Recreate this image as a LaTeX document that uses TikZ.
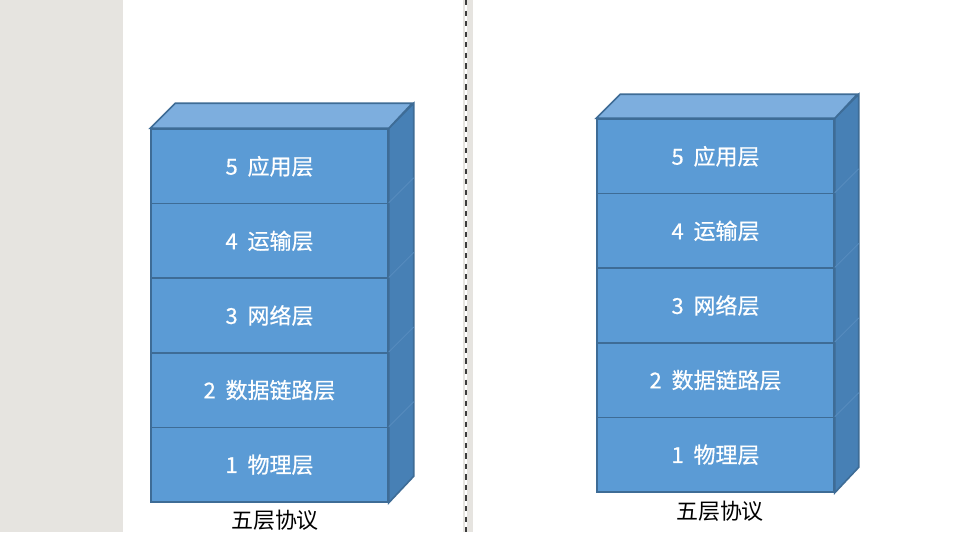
\documentclass[tikz,border=0pt]{standalone}
\usepackage{fontspec}
\newfontfamily\cjk{Noto Sans CJK SC}
\newfontfamily\cjkheavy[FakeBold=0.6]{Noto Sans CJK SC}
\usetikzlibrary{positioning}
\usetikzlibrary{calc}
\definecolor{panegray}{RGB}{230,228,224}
\definecolor{frontblue}{RGB}{91,155,213}
\definecolor{topblue}{RGB}{125,174,222}
\definecolor{sideblue}{RGB}{71,128,181}
\definecolor{edgeblue}{RGB}{62,108,150}
\definecolor{seamblue}{RGB}{86,140,190}
\definecolor{dashgray}{RGB}{60,60,60}
\tikzset{
  layerbox/.style={draw=edgeblue, line width=0.9pt, fill=frontblue, inner sep=0pt,
    minimum width=4.74cm, minimum height=1.492cm, text=white, font=\cjkheavy\fontsize{12.5}{14}\selectfont},
  sideface/.style={draw=edgeblue, line width=0.9pt, fill=sideblue},
  topface/.style={draw=edgeblue, line width=0.9pt, fill=topblue},
  captext/.style={inner sep=0pt, text=black, font=\cjk\fontsize{12.5}{14}\selectfont}
}
\begin{document}
\begin{tikzpicture}[x=0.02cm, y=-0.02cm]
			\useasboundingbox (0,0) rectangle (955,532);
			\fill[white] (0,0) rectangle (955,532);
			% window panes
			\fill[panegray] (0,0) rectangle (123,532);
			\fill[panegray] (463,0) rectangle (473,532);
			\draw[white, line width=1.2pt] (466,0) -- (466,532);
			\draw[dashgray, line width=1.2pt, dash pattern=on 3pt off 3pt] (466,0) -- (466,532);
			
			% left stack
			\foreach \i/\txt in {1/物理层, 2/数据链路层, 3/网络层, 4/运输层, 5/应用层}
				\node[layerbox] (l\i) at (269.5, {502-37.3-74.6*(\i-1)}) {\i\hspace{0.45em}\txt};
			\draw[sideface] (l5.north east) -- ++(25,-25) -- ++(0,373) -- (l1.south east) -- cycle;
			\foreach \i in {1,2,3,4}
				\draw[seamblue, line width=0.5pt] (l\i.north east) -- ++(25,-25);
			\draw[topface] (l5.north west) -- ++(25,-25) -- ++(237,0) -- (l5.north east) -- cycle;
			\node[captext] (lcap) at (275,520) {五层协议};
			
			% right stack
			\foreach \i/\txt in {1/物理层, 2/数据链路层, 3/网络层, 4/运输层, 5/应用层}
				\node[layerbox] (r\i) at (715.5, {492-37.3-74.6*(\i-1)}) {\i\hspace{0.45em}\txt};
			\draw[sideface] (r5.north east) -- ++(24,-24) -- ++(0,373) -- (r1.south east) -- cycle;
			\foreach \i in {1,2,3,4}
				\draw[seamblue, line width=0.5pt] (r\i.north east) -- ++(24,-24);
			\draw[topface] (r5.north west) -- ++(24,-24) -- ++(237,0) -- (r5.north east) -- cycle;
			\node[captext] (rcap) at (720,511) {五层协议};
		\end{tikzpicture}
\end{document}
